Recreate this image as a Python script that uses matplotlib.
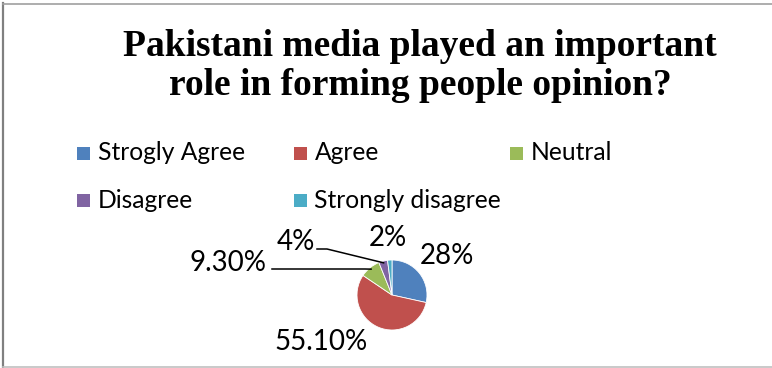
import numpy as np
import matplotlib
matplotlib.use("Agg")
import matplotlib.pyplot as plt
from matplotlib.patches import Rectangle

# data
labels = ["Strogly Agree", "Agree", "Neutral", "Disagree", "Strongly disagree"]
values = [28, 55.1, 9.3, 4, 2]
value_text = ["28%", "55.10%", "9.30%", "4%", "2%"]
colors = ["#4F81BD", "#C0504D", "#9BBB59", "#8064A2", "#4BACC6"]

W, H = 772, 368
fig = plt.figure(figsize=(W / 100, H / 100), dpi=100)

# chart border
fig.add_artist(plt.Line2D([3.5 / W, 3.5 / W], [1 - 3 / H, 1 / H], color="#808080", lw=1.6))
fig.add_artist(plt.Line2D([3 / W, 1], [1 - 3.5 / H, 1 - 3.5 / H], color="#A0A0A0", lw=1.2))
fig.add_artist(plt.Line2D([3 / W, 1], [1.2 / H, 1.2 / H], color="#C0C0C0", lw=1.2))

fig.text(420 / W, 1 - 66 / H,
         "Pakistani media played an important\nrole in forming people opinion?",
         ha="center", va="center", fontsize=27, fontweight="bold",
         family="Liberation Serif", linespacing=1.13)

# legend, drawn by hand to keep the Excel spacing
for i, (lab, col) in enumerate(zip(labels, colors)):
    x0 = 77 + (i % 3) * 216.5
    y0 = 153 + (i // 3) * 47
    fig.add_artist(Rectangle((x0 / W, 1 - (y0 + 6.5) / H), 13 / W, 13 / H,
                             facecolor=col, edgecolor="none", transform=fig.transFigure))
    fig.text((x0 + 21) / W, 1 - y0 / H, lab, ha="left", va="center",
             fontsize=17.7, family="Lato")

# pie
cx, cy, r = 392, 295, 35
ax = fig.add_axes([(cx - r) / W, (H - cy - r) / H, 2 * r / W, 2 * r / H])
wedges, _ = ax.pie(values, colors=colors, startangle=90, counterclock=False,
                   radius=1, wedgeprops=dict(edgecolor="white", linewidth=0.6))
ax.set_xlim(-1, 1)
ax.set_ylim(-1, 1)
ax.set_aspect("equal")
ax.axis("off")

# label positions (pixels in the figure) and leader line elbows
label_pos = [(447, 256), (321, 342), (228, 263), (296, 242), (388, 238)]
leaders = {2: (272, 269, 365), 3: (317, 249, 327)}

def to_data(px, py):
    return (px - cx) / r, (cy - py) / r

for i, w in enumerate(wedges):
    lx, ly = to_data(*label_pos[i])
    ax.text(lx, ly, value_text[i], ha="center", va="center", fontsize=20,
            family="Lato", clip_on=False)
    if i in leaders:
        xs, ys, xe = leaders[i]
        ang = np.deg2rad((w.theta1 + w.theta2) / 2)
        tx, ty = 0.95 * np.cos(ang), 0.95 * np.sin(ang)
        ax1, ay1 = to_data(xs, ys)
        ax2, _ = to_data(xe, ys)
        ax.plot([ax1, ax2, tx], [ay1, ay1, ty], color="black", lw=1.1, clip_on=False)

fig.savefig("out.png", dpi=100)
